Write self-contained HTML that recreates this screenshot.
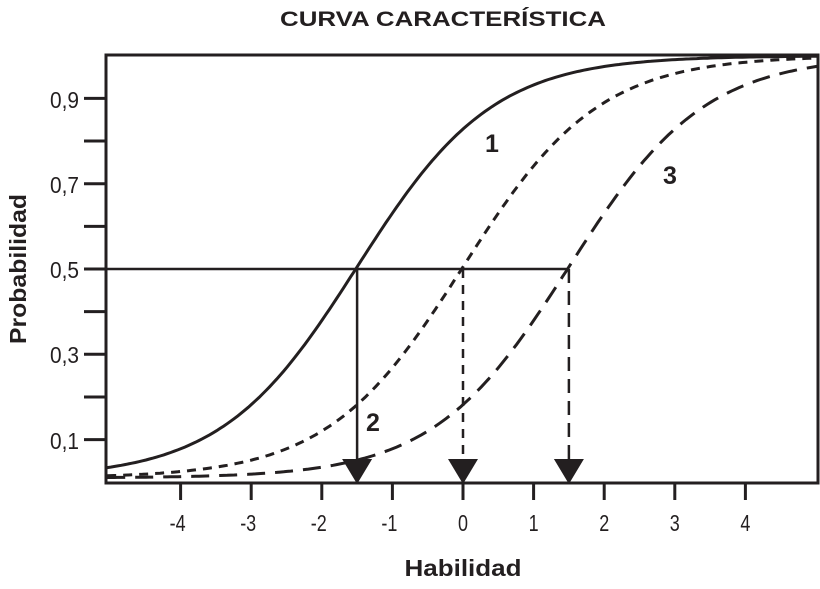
<!DOCTYPE html>
<html><head><meta charset="utf-8"><style>
html,body{margin:0;padding:0;background:#fff;width:820px;height:589px;overflow:hidden}
text{font-family:"Liberation Sans Narrow","Liberation Sans",sans-serif;fill:#231f20}
</style></head><body>
<svg id="s" width="820" height="589" viewBox="0 0 820 589" xmlns="http://www.w3.org/2000/svg">
<text x="443" y="26" font-size="21" font-weight="bold" text-anchor="middle" textLength="326" lengthAdjust="spacingAndGlyphs">CURVA CARACTERÍSTICA</text>
<text transform="translate(26,269) rotate(-90)" font-size="23" font-weight="bold" text-anchor="middle" textLength="150" lengthAdjust="spacingAndGlyphs">Probabilidad</text>
<text x="463" y="576" font-size="23" font-weight="bold" text-anchor="middle" textLength="117" lengthAdjust="spacingAndGlyphs">Habilidad</text>
<g id="g" stroke="#231f20" fill="none"></g>
<g font-size="23">
<text x="50" y="108" textLength="29" lengthAdjust="spacingAndGlyphs">0,9</text>
<text x="50" y="193" textLength="29" lengthAdjust="spacingAndGlyphs">0,7</text>
<text x="50" y="278" textLength="29" lengthAdjust="spacingAndGlyphs">0,5</text>
<text x="50" y="363" textLength="29" lengthAdjust="spacingAndGlyphs">0,3</text>
<text x="50" y="449" textLength="29" lengthAdjust="spacingAndGlyphs">0,1</text>
</g>
<g font-size="23" text-anchor="middle" id="xl"></g>
<g font-size="25" font-weight="bold">
<text x="485" y="152">1</text>
<text x="366" y="431">2</text>
<text x="663" y="184">3</text>
</g>
</svg>
<script>
var ns="http://www.w3.org/2000/svg",g=document.getElementById('g'),xl=document.getElementById('xl');
function X(v){return 463+v*70.6}function Y(p){return 269-(p-0.5)*426.5}
function el(t,a,p){var e=document.createElementNS(ns,t);for(var k in a)e.setAttribute(k,a[k]);(p||g).appendChild(e);return e}
el('rect',{x:106,y:55,width:712,height:428,'stroke-width':3});
for(var i=1;i<=9;i++){var y=Y(i/10);el('line',{x1:84,x2:106,y1:y,y2:y,'stroke-width':3});}
for(var v=-4;v<=4;v++){var x=X(v);el('line',{x1:x,x2:x,y1:483,y2:500,'stroke-width':3});
 var w=v<0?16:10;var t=el('text',{x:x-(v<0?3:0),y:531,textLength:w,lengthAdjust:'spacingAndGlyphs'},xl);t.textContent=v;}
function curve(b,dash){var d='';for(var x=-5.04;x<=5.03;x+=0.05){var p=1/(1+Math.exp(-1.04*(x-b)));p=0.01+0.99*p;d+=(d?'L':'M')+X(x).toFixed(1)+','+Y(p).toFixed(1);}
 var a={d:d,'stroke-width':3};if(dash)a['stroke-dasharray']=dash;el('path',a);}
curve(-1.5,null);curve(0,'9,7');curve(1.5,'18,10');
el('line',{x1:106,x2:X(1.5),y1:269,y2:269,'stroke-width':2.5});
[[-1.5,null],[0,'9,7'],[1.5,'14,8']].forEach(function(a){var x=X(a[0]);var o={x1:x,x2:x,y1:269,y2:460,'stroke-width':2.5};if(a[1])o['stroke-dasharray']=a[1];el('line',o);
 el('path',{d:'M'+(x-15)+',459L'+(x+15)+',459L'+x+',484Z',fill:'#231f20',stroke:'none'});});
</script>
</body></html>
